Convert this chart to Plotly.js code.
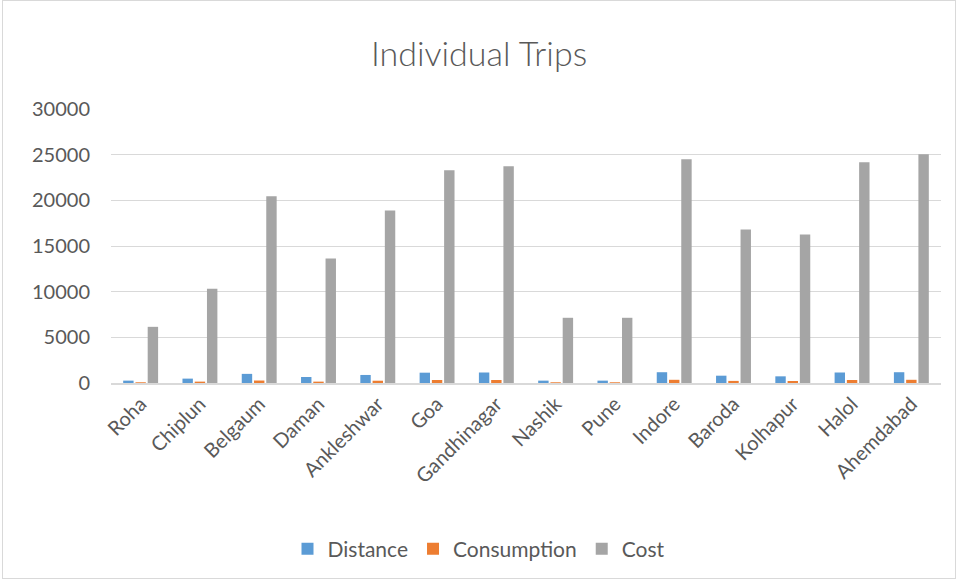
<!DOCTYPE html>
<html><head><meta charset="utf-8">
<script src="https://cdn.plot.ly/plotly-3.0.1.min.js"></script>
<style>html,body{margin:0;padding:0;background:#fff;}#c{position:absolute;left:2px;top:0;width:952px;height:577px;border:1px solid #d9d9d9;}</style>
</head><body><div id="c"></div>
<script>
const cities = ["Roha","Chiplun","Belgaum","Daman","Ankleshwar","Goa","Gandhinagar","Nashik","Pune","Indore","Baroda","Kolhapur","Halol","Ahemdabad"];
const distance = [260,480,1000,660,880,1130,1150,260,260,1180,800,730,1150,1180];
const consumption = [80,150,270,150,250,330,330,80,80,350,230,220,330,350];
const cost = [6150,10330,20440,13630,18900,23300,23740,7140,7140,24500,16800,16260,24180,25050];
const font = "Lato, Open Sans, sans-serif";
const data = [
 {type:"bar", name:"Distance", x:cities, y:distance, marker:{color:"#5b9bd5"}},
 {type:"bar", name:"Consumption", x:cities, y:consumption, marker:{color:"#ed7d31"}},
 {type:"bar", name:"Cost", x:cities, y:cost, marker:{color:"#a5a5a5"}}
];
const layout = {
 width:952, height:577,
 margin:{l:108, r:14, t:108, b:195},
 paper_bgcolor:"#fff", plot_bgcolor:"#fff",
 font:{family:font, color:"#595959", size:20},
 title:{text:"Individual Trips", x:0.5, xanchor:"center", xref:"container", yref:"container", y:0.908, yanchor:"middle", font:{size:34, color:"#595959", family:font, weight:300}},
 barmode:"group", bargap:0.38, bargroupgap:0.15,
 xaxis:{tickangle:-45, showgrid:false, showline:true, linecolor:"#d9d9d9", linewidth:1.5, ticks:"", tickfont:{size:20, color:"#595959"}},
 yaxis:{range:[0,30000], dtick:5000, tickformat:"d", showgrid:true, gridcolor:"#d9d9d9", zeroline:false, ticks:"", tickfont:{size:20, color:"#595959"}, ticklabelstandoff:20},
 legend:{orientation:"h", x:0.5, xanchor:"center", xref:"container", yref:"container", y:0.05, yanchor:"middle", font:{size:21, color:"#595959"}, itemwidth:30},
 showlegend:true
};
Plotly.newPlot("c", data, layout, {displayModeBar:false, staticPlot:true});
</script></body></html>
